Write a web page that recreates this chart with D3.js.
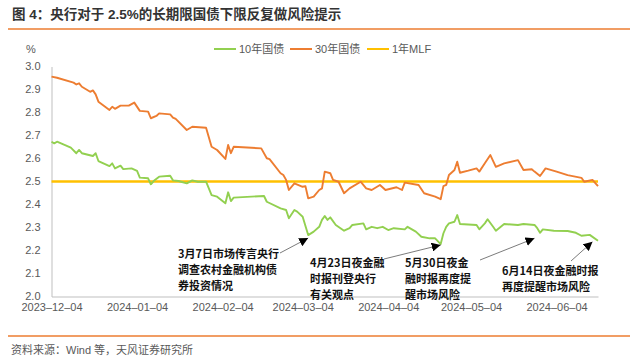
<!DOCTYPE html>
<html><head><meta charset="utf-8">
<script src="https://cdn.jsdelivr.net/npm/d3@7"></script>
<style>
html,body{margin:0;padding:0;background:#fff;}
svg{display:block;}
</style></head>
<body>
<svg id="chart" width="637" height="361"></svg>
<script>
// ---------- data ----------
const dates10 = ["2023-12-04","2023-12-05","2023-12-06","2023-12-11","2023-12-13","2023-12-14","2023-12-15","2023-12-19","2023-12-20","2023-12-21","2023-12-25","2023-12-26","2023-12-27","2023-12-29","2023-12-30","2024-01-02","2024-01-04","2024-01-05","2024-01-08","2024-01-09","2024-01-10","2024-01-12","2024-01-16","2024-01-17","2024-01-19","2024-01-22","2024-01-24","2024-01-26","2024-01-29","2024-01-31","2024-02-02","2024-02-05","2024-02-06","2024-02-07","2024-02-08","2024-02-19","2024-02-20","2024-02-25","2024-02-27","2024-02-28","2024-03-01","2024-03-02","2024-03-04","2024-03-06","2024-03-08","2024-03-10","2024-03-11","2024-03-12","2024-03-13","2024-03-14","2024-03-16","2024-03-19","2024-03-21","2024-03-22","2024-03-26","2024-03-27","2024-03-29","2024-03-31","2024-04-02","2024-04-04","2024-04-06","2024-04-10","2024-04-11","2024-04-14","2024-04-16","2024-04-19","2024-04-21","2024-04-23","2024-04-24","2024-04-25","2024-04-26","2024-04-28","2024-04-29","2024-04-30","2024-05-06","2024-05-07","2024-05-09","2024-05-10","2024-05-12","2024-05-13","2024-05-16","2024-05-21","2024-05-23","2024-05-27","2024-05-28","2024-05-29","2024-05-30","2024-06-03","2024-06-08","2024-06-11","2024-06-13","2024-06-16","2024-06-19"];
const tenY = [2.673,2.666,2.673,2.647,2.623,2.637,2.623,2.611,2.623,2.589,2.567,2.579,2.557,2.569,2.554,2.557,2.546,2.517,2.514,2.488,2.502,2.521,2.525,2.505,2.502,2.492,2.505,2.499,2.499,2.441,2.434,2.405,2.453,2.415,2.430,2.437,2.412,2.383,2.376,2.340,2.376,2.369,2.347,2.267,2.282,2.303,2.333,2.350,2.333,2.344,2.311,2.286,2.297,2.311,2.318,2.292,2.303,2.297,2.303,2.289,2.297,2.292,2.303,2.282,2.260,2.253,2.253,2.228,2.275,2.303,2.318,2.325,2.354,2.315,2.311,2.292,2.318,2.336,2.303,2.286,2.315,2.311,2.315,2.311,2.297,2.277,2.292,2.286,2.285,2.277,2.264,2.268,2.242];

const dates30 = ["2023-12-04","2023-12-06","2023-12-12","2023-12-13","2023-12-14","2023-12-15","2023-12-18","2023-12-19","2023-12-20","2023-12-21","2023-12-25","2023-12-26","2023-12-27","2023-12-29","2024-01-01","2024-01-03","2024-01-05","2024-01-08","2024-01-09","2024-01-11","2024-01-12","2024-01-16","2024-01-17","2024-01-18","2024-01-22","2024-01-24","2024-01-29","2024-01-31","2024-02-02","2024-02-05","2024-02-06","2024-02-07","2024-02-08","2024-02-18","2024-02-20","2024-02-21","2024-02-25","2024-02-26","2024-02-27","2024-02-28","2024-03-01","2024-03-04","2024-03-05","2024-03-06","2024-03-08","2024-03-10","2024-03-11","2024-03-12","2024-03-14","2024-03-15","2024-03-17","2024-03-19","2024-03-21","2024-03-25","2024-03-27","2024-03-29","2024-04-01","2024-04-03","2024-04-07","2024-04-09","2024-04-10","2024-04-15","2024-04-17","2024-04-21","2024-04-23","2024-04-24","2024-04-25","2024-04-26","2024-04-28","2024-04-29","2024-04-30","2024-05-03","2024-05-06","2024-05-07","2024-05-09","2024-05-11","2024-05-13","2024-05-16","2024-05-21","2024-05-23","2024-05-26","2024-05-27","2024-05-29","2024-05-31","2024-06-04","2024-06-08","2024-06-13","2024-06-14","2024-06-17","2024-06-19"];
const thirtyY = [2.956,2.951,2.930,2.922,2.927,2.912,2.890,2.896,2.879,2.847,2.811,2.825,2.816,2.830,2.830,2.843,2.807,2.804,2.775,2.785,2.796,2.792,2.778,2.772,2.724,2.738,2.734,2.651,2.637,2.598,2.659,2.623,2.651,2.644,2.601,2.597,2.536,2.528,2.507,2.463,2.492,2.477,2.480,2.427,2.434,2.463,2.470,2.543,2.536,2.507,2.499,2.449,2.470,2.499,2.470,2.463,2.485,2.463,2.475,2.463,2.495,2.485,2.449,2.434,2.423,2.480,2.485,2.528,2.550,2.586,2.538,2.547,2.557,2.543,2.579,2.615,2.564,2.579,2.593,2.550,2.553,2.543,2.524,2.557,2.543,2.528,2.516,2.499,2.507,2.480];

const mlfDates = ["2023-12-04","2024-06-19"];
const mlf = [2.5, 2.5];

const yTicks = [2.0,2.1,2.2,2.3,2.4,2.5,2.6,2.7,2.8,2.9,3.0];
const xTicks = ["2023-12-04","2024-01-04","2024-02-04","2024-03-04","2024-04-04","2024-05-04","2024-06-04"];

const seriesNames = ["10年国债","30年国债","1年MLF"];

const noteTexts = [
  ["3月7日市场传言央行","调查农村金融机构债","券投资情况"],
  ["4月23日夜金融","时报刊登央行","有关观点"],
  ["5月30日夜金","融时报再度提","醒市场风险"],
  ["6月14日夜金融时报","再度提醒市场风险"]
];
const noteTipDates = ["2024-03-06","2024-04-23","2024-05-27","2024-06-17"];
const noteTipValues = [2.254, 2.224, 2.253, 2.238];

// ---------- layout ----------
const svg = d3.select("#chart");
const plotL = 51.5, plotR = 598, plotT = 66.5, plotB = 296.5;
const parse = d3.timeParse("%Y-%m-%d");
const latin = "'Liberation Sans', Arial, 'Noto Sans CJK SC', sans-serif";
const cjk = "'Noto Sans CJK SC', 'Liberation Sans', sans-serif";
const colors = ["#92D050", "#ED7D31", "#FFC000"];

const x = d3.scaleTime().domain([parse("2023-12-04"), parse("2024-06-19")]).range([plotL, plotR]);
const y = d3.scaleLinear().domain([2.0, 3.0]).range([plotB, plotT]);

// title
svg.append("text").attr("x", 12).attr("y", 14).attr("dominant-baseline", "central")
  .style("font-family", latin).style("font-size", "13.5px").style("font-weight", "bold")
  .attr("fill", "#333").text("图 4：央行对于 2.5%的长期限国债下限反复做风险提示");
svg.append("line").attr("x1", 8).attr("x2", 630).attr("y1", 29).attr("y2", 29)
  .attr("stroke", "#ED7D31").attr("stroke-width", 1.3);

// footer
svg.append("line").attr("x1", 8).attr("x2", 630).attr("y1", 336).attr("y2", 336)
  .attr("stroke", "#ED7D31").attr("stroke-width", 1.3);
svg.append("text").attr("x", 11).attr("y", 350).attr("dominant-baseline", "central")
  .style("font-family", latin).style("font-size", "11px").attr("fill", "#595959")
  .text("资料来源：Wind 等，天风证券研究所");

// unit
svg.append("text").attr("x", 26).attr("y", 49).attr("dominant-baseline", "central")
  .style("font-family", latin).style("font-size", "11px").attr("fill", "#595959").text("%");

// axes
const yAxis = d3.axisLeft(y).tickValues(yTicks).tickFormat(d3.format(".1f")).tickSize(0).tickPadding(11);
const gy = svg.append("g").attr("transform", `translate(${plotL},0)`).call(yAxis);
gy.select(".domain").attr("stroke", "#BFBFBF").attr("stroke-width", 1);
gy.selectAll("text").style("font-family", latin).style("font-size", "11px").attr("fill", "#595959")
  .attr("dy", "0.28em");

const xAxis = d3.axisBottom(x).tickValues(xTicks.map(parse)).tickFormat(d3.timeFormat("%Y-%m-%d")).tickSize(0).tickPadding(7);
const gx = svg.append("g").attr("transform", `translate(0,${plotB})`).call(xAxis);
gx.select(".domain").attr("stroke", "#BFBFBF").attr("stroke-width", 1);
gx.selectAll("text").style("font-family", latin).style("font-size", "11px").attr("fill", "#595959")
  .text(d => d3.timeFormat("%Y-%m-%d")(d).replace(/-/g, "\u2013"));

// lines
const line = d3.line().x(d => x(d[0])).y(d => y(d[1]));
const s10 = dates10.map((d, i) => [parse(d), tenY[i]]);
const s30 = dates30.map((d, i) => [parse(d), thirtyY[i]]);
const sM = mlfDates.map((d, i) => [parse(d), mlf[i]]);

svg.append("path").datum(sM).attr("d", line).attr("fill", "none").attr("stroke", colors[2]).attr("stroke-width", 2.4);
svg.append("path").datum(s30).attr("d", line).attr("fill", "none").attr("stroke", colors[1]).attr("stroke-width", 1.9).attr("stroke-linejoin", "round");
svg.append("path").datum(s10).attr("d", line).attr("fill", "none").attr("stroke", colors[0]).attr("stroke-width", 1.9).attr("stroke-linejoin", "round");

// legend
const legendX = [214, 290, 367];
const lg = svg.append("g");
seriesNames.forEach((n, i) => {
  lg.append("line").attr("x1", legendX[i]).attr("x2", legendX[i] + 22).attr("y1", 49).attr("y2", 49)
    .attr("stroke", colors[i]).attr("stroke-width", 2);
  lg.append("text").attr("x", legendX[i] + 25).attr("y", 49).attr("dominant-baseline", "central")
    .style("font-family", latin).style("font-size", "11px").attr("fill", "#595959").text(n);
});

// annotations
const defs = svg.append("defs");
defs.append("marker").attr("id", "arr").attr("viewBox", "0 0 10 10").attr("refX", 10).attr("refY", 5)
  .attr("markerWidth", 9).attr("markerHeight", 9).attr("markerUnits", "userSpaceOnUse").attr("orient", "auto")
  .append("path").attr("d", "M0,0 L10,5 L0,10 Z").attr("fill", "#000");

const noteLayout = [
  {tx: 178, ty: 253, ax: 280, ay: 253},
  {tx: 310, ty: 262, ax: 384, ay: 259},
  {tx: 405, ty: 262, ax: 480, ay: 260},
  {tx: 502, ty: 270, ax: 571, ay: 261}
];
noteTexts.forEach((lines, i) => {
  const L = noteLayout[i];
  const t = svg.append("text").style("font-family", cjk).style("font-size", "11px")
    .style("font-weight", "bold").attr("fill", "#111");
  lines.forEach((s, j) => {
    t.append("tspan").attr("x", L.tx).attr("y", L.ty + j * 16).attr("dominant-baseline", "central").text(s);
  });
  svg.append("line").attr("x1", L.ax).attr("y1", L.ay)
    .attr("x2", x(parse(noteTipDates[i]))).attr("y2", y(noteTipValues[i]))
    .attr("stroke", "#595959").attr("stroke-width", 0.8).attr("marker-end", "url(#arr)");
});
</script>
</body></html>
